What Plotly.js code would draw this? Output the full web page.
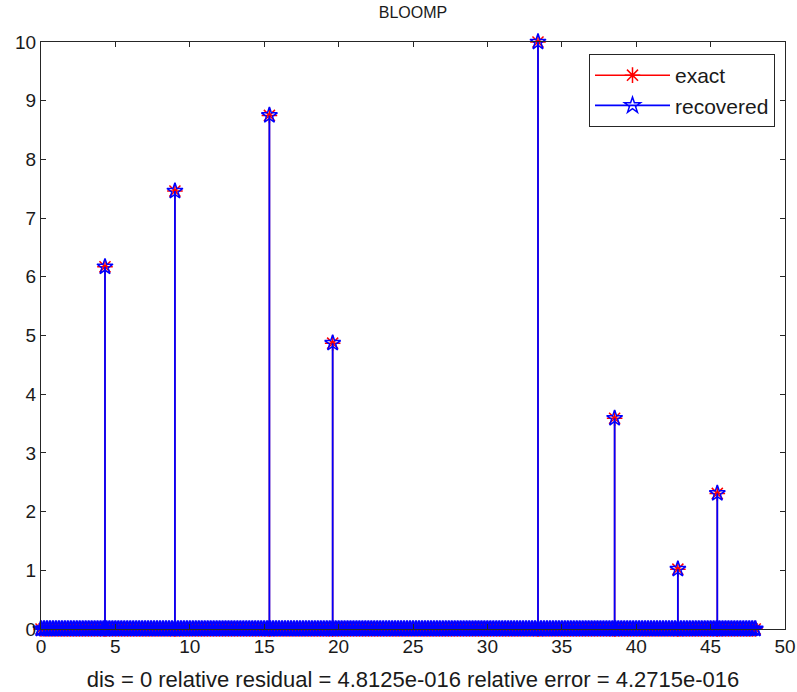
<!DOCTYPE html>
<html>
<head>
<meta charset="utf-8">
<script src="https://cdn.plot.ly/plotly-3.0.1.min.js"></script>
<style>html,body{margin:0;padding:0;background:#fff}#chart{width:797px;height:692px}</style>
</head>
<body>
<div id="chart"></div>
<script>
// ---- data ----
const spikeX = [4.3, 9.0, 15.35, 19.6, 33.4, 38.55, 42.8, 45.45];
const exactY = [6.17, 7.46, 8.75, 4.87, 10.0, 3.59, 1.02, 2.31];
const recoveredY = [6.17, 7.46, 8.75, 4.87, 10.0, 3.59, 1.02, 2.31];
// all other entries of the signal are zero, sampled from 0 to 48
const zeroStep = 0.2;
const zeroMax = 48;
const xTicks = [0, 5, 10, 15, 20, 25, 30, 35, 40, 45, 50];
const yTicks = [0, 1, 2, 3, 4, 5, 6, 7, 8, 9, 10];
const titleText = 'BLOOMP';
const xLabel = 'dis = 0 relative residual = 4.8125e-016 relative error = 4.2715e-016';

// ---- build stems (segment from baseline to value, gap between stems) ----
function stems(xs, ys) {
  const sx = [], sy = [];
  xs.forEach((x, i) => { sx.push(x, x, null); sy.push(0, ys[i], null); });
  return {sx, sy};
}
const zeroX = [];
for (let i = 0; i * zeroStep <= zeroMax + 1e-9; i++) zeroX.push(+(i * zeroStep).toFixed(4));
const zeroY = zeroX.map(() => 0);

const e = stems(spikeX, exactY);
const r = stems(spikeX, recoveredY);
const FONT = 'Liberation Sans, Arial, sans-serif';
const MS = 12;

const traces = [
  {x: zeroX, y: zeroY, type: 'scatter', mode: 'markers', showlegend: false, cliponaxis: false, hoverinfo: 'skip',
   marker: {symbol: 'asterisk-open', size: MS + 1, color: 'red', line: {color: 'red', width: 1.5}}},
  {x: e.sx, y: e.sy, type: 'scatter', mode: 'lines+markers', name: 'exact', cliponaxis: false, connectgaps: false,
   line: {color: 'red', width: 1.5},
   marker: {symbol: 'asterisk-open', size: MS + 1, color: 'red', line: {color: 'red', width: 1.5}}},
  {x: zeroX, y: zeroY, type: 'scatter', mode: 'markers', showlegend: false, cliponaxis: false, hoverinfo: 'skip',
   marker: {symbol: 'star-open', size: MS, color: 'blue', line: {color: 'blue', width: 2}}},
  {x: r.sx, y: r.sy, type: 'scatter', mode: 'lines+markers', name: 'recovered', cliponaxis: false, connectgaps: false,
   line: {color: 'blue', width: 1.8},
   marker: {symbol: 'star-open', size: MS, color: 'blue', line: {color: 'blue', width: 1.5}}}
];

const axisCommon = {
  showline: true, linecolor: '#262626', linewidth: 1, mirror: 'allticks',
  ticks: 'inside', ticklen: 5, tickcolor: '#262626', tickwidth: 1,
  showgrid: false, zeroline: false,
  tickfont: {family: FONT, size: 19, color: '#1a1a1a'}
};

const layout = {
  width: 797, height: 692,
  paper_bgcolor: '#fff', plot_bgcolor: '#fff',
  margin: {l: 41, r: 12, t: 42, b: 63},
  font: {family: FONT, size: 19, color: '#1a1a1a'},
  title: {text: titleText, x: 0.5, xref: 'paper', y: 1 - 12 / 692, yanchor: 'middle',
          font: {family: FONT, size: 16, color: '#1a1a1a'}},
  xaxis: Object.assign({}, axisCommon, {range: [0, 50], tickvals: xTicks, ticktext: xTicks.map(String),
          title: {text: xLabel, font: {family: FONT, size: 22, color: '#1a1a1a'}}}),
  yaxis: Object.assign({}, axisCommon, {range: [0, 10], tickvals: yTicks, ticktext: yTicks.map(String)}),
  showlegend: true,
  legend: {x: (775 - 41) / 744, xanchor: 'right', y: (629 - 54) / 587, yanchor: 'top',
           bgcolor: '#fff', bordercolor: '#262626', borderwidth: 1,
           font: {family: FONT, size: 21, color: '#1a1a1a'}, itemwidth: 75, traceorder: 'normal'}
};

Plotly.newPlot('chart', traces, layout, {displayModeBar: false, staticPlot: true});
</script>
</body>
</html>
